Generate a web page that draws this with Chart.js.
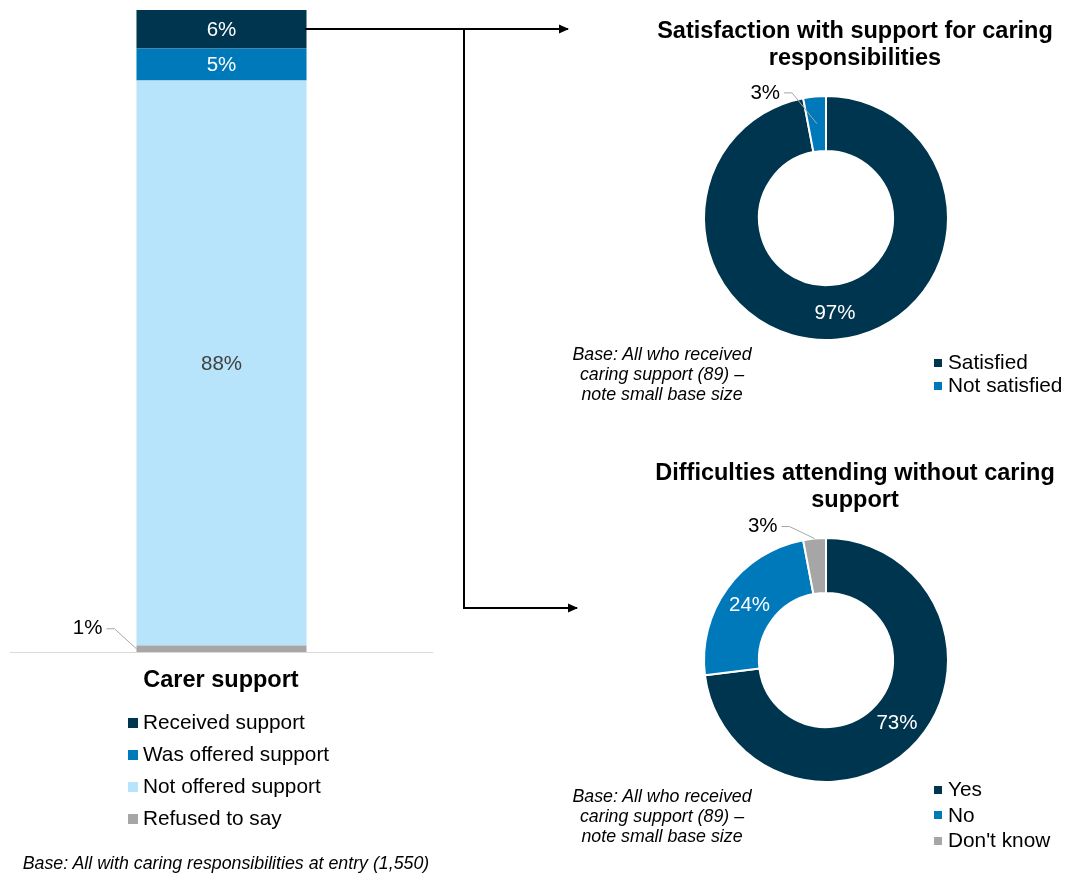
<!DOCTYPE html>
<html>
<head>
<meta charset="utf-8">
<script src="https://cdn.jsdelivr.net/npm/chart.js@4"></script>
<style>
body{margin:0;background:#fff;font-family:"Liberation Sans",Arial,sans-serif;color:#000;}
#wrap{position:relative;width:1065px;height:878px;overflow:hidden;}
canvas{position:absolute;}
.title{position:absolute;font-weight:bold;font-size:23.5px;line-height:27px;text-align:center;}
.note{position:absolute;font-style:italic;font-size:17.8px;line-height:20px;text-align:center;}
.legend{position:absolute;font-size:20.8px;}
.legend div{position:relative;white-space:nowrap;}
.legend span{position:absolute;display:block;}
svg{position:absolute;left:0;top:0;}
</style>
</head>
<body>
<div id="wrap">
<canvas id="carerChart" style="left:0;top:0;" width="445" height="662"></canvas>
<canvas id="satChart" style="left:680px;top:72px;" width="292" height="292"></canvas>
<canvas id="diffChart" style="left:680px;top:514px;" width="292" height="292"></canvas>

<svg width="1065" height="878">
<defs>
<marker id="arrow" markerWidth="10" markerHeight="10" refX="9" refY="5" orient="auto" markerUnits="userSpaceOnUse">
<path d="M0,0.5 L10,5 L0,9.5 z" fill="#000"/>
</marker>
</defs>
<path d="M305,29 H568" stroke="#000" stroke-width="2" fill="none" marker-end="url(#arrow)"/>
<path d="M464,29 V608 H577" stroke="#000" stroke-width="2" fill="none" marker-end="url(#arrow)"/>
</svg>

<div class="title" style="left:621px;top:17px;width:468px;">Satisfaction with support for caring<br>responsibilities</div>
<div class="title" style="left:621px;top:459px;width:468px;">Difficulties attending without caring<br>support</div>
<div class="title" style="left:71px;top:666px;width:300px;">Carer support</div>

<div class="note" style="left:542px;top:344px;width:240px;">Base: All who received<br>caring support (89) –<br>note small base size</div>
<div class="note" style="left:542px;top:786px;width:240px;">Base: All who received<br>caring support (89) –<br>note small base size</div>
<div class="note" style="left:0;top:853px;width:452px;">Base: All with caring responsibilities at entry (1,550)</div>

<div class="legend" id="carerLegend" style="left:128px;top:706px;"></div>
<div class="legend" id="satLegend" style="left:934px;top:350px;"></div>
<div class="legend" id="diffLegend" style="left:934px;top:776px;"></div>
</div>

<script>
// carer support (left stacked bar)
const carerCategories = ["Carer support"];
const carerLabels = ["Received support", "Was offered support", "Not offered support", "Refused to say"];
const carerValues = [6, 5, 88, 1];
const carerColors = ["#00354f", "#0079ba", "#b7e3fb", "#a6a6a6"];
const carerTextColors = ["#ffffff", "#ffffff", "#404040", "#404040"];

// satisfaction donut
const satLabels = ["Satisfied", "Not satisfied"];
const satValues = [97, 3];
const satColors = ["#00354f", "#0079ba"];

// difficulties donut
const diffLabels = ["Yes", "No", "Don't know"];
const diffValues = [73, 24, 3];
const diffColors = ["#00354f", "#0079ba", "#a6a6a6"];

const FONT = "'Liberation Sans', Arial, sans-serif";
const LABEL_FONT = "20.5px " + FONT;

function pct(v){ return v + "%"; }

function buildLegend(id, labels, colors, rowH, box, gap){
  const el = document.getElementById(id);
  labels.forEach((l, i) => {
    const row = document.createElement("div");
    row.style.height = rowH + "px";
    row.style.lineHeight = rowH + "px";
    row.style.paddingLeft = (box + gap) + "px";
    const sq = document.createElement("span");
    sq.style.left = "0px";
    sq.style.top = ((rowH - box) / 2 + 1) + "px";
    sq.style.width = box + "px";
    sq.style.height = box + "px";
    sq.style.background = colors[i];
    row.appendChild(sq);
    row.appendChild(document.createTextNode(l));
    el.appendChild(row);
  });
}

buildLegend("carerLegend", carerLabels, carerColors, 32, 10, 5);
buildLegend("satLegend", satLabels, satColors, 23, 8, 6);
buildLegend("diffLegend", diffLabels, diffColors, 25.5, 8, 6);

// draws a leader line and a value outside the mark
function leader(ctx, ax, ay, ex, ey, text){
  ctx.save();
  ctx.strokeStyle = "#a6a6a6";
  ctx.lineWidth = 1;
  ctx.beginPath();
  ctx.moveTo(ax, ay);
  ctx.lineTo(ex, ey);
  ctx.lineTo(ex - 8, ey);
  ctx.stroke();
  ctx.fillStyle = "#000";
  ctx.font = LABEL_FONT;
  ctx.textAlign = "right";
  ctx.textBaseline = "middle";
  ctx.fillText(text, ex - 12, ey);
  ctx.restore();
}

// value labels on the stacked bar
const barLabels = {
  id: "barLabels",
  afterDatasetsDraw(chart){
    const ctx = chart.ctx;
    const a = chart.chartArea;
    // baseline
    ctx.save();
    ctx.strokeStyle = "#d9d9d9";
    ctx.lineWidth = 1;
    ctx.beginPath();
    ctx.moveTo(a.left, Math.round(a.bottom) + 0.5);
    ctx.lineTo(a.right, Math.round(a.bottom) + 0.5);
    ctx.stroke();
    ctx.restore();

    chart.data.datasets.forEach((ds, di) => {
      const el = chart.getDatasetMeta(di).data[0];
      const v = ds.data[0];
      const h = Math.abs(el.base - el.y);
      const cy = (el.y + el.base) / 2;
      if (h < 20) {
        const ax = el.x - el.width / 2;
        leader(ctx, ax, cy, ax - 22, cy - 20, pct(v));
        return;
      }
      ctx.save();
      ctx.fillStyle = ds.textColor;
      ctx.font = LABEL_FONT;
      ctx.textAlign = "center";
      ctx.textBaseline = "middle";
      ctx.fillText(pct(v), el.x, cy + 1);
      ctx.restore();
    });
  }
};

// value labels on the doughnuts
const arcLabels = {
  id: "arcLabels",
  afterDatasetsDraw(chart, args, opts){
    const ctx = chart.ctx;
    const ds = chart.data.datasets[0];
    chart.getDatasetMeta(0).data.forEach((arc, i) => {
      const v = ds.data[i];
      if (i === opts.outside) {
        const mid = (arc.startAngle + arc.endAngle) / 2;
        const r = arc.innerRadius + (arc.outerRadius - arc.innerRadius) * opts.anchor;
        const ax = arc.x + Math.cos(mid) * r;
        const ay = arc.y + Math.sin(mid) * r;
        leader(ctx, ax, ay, ax + opts.dx, ay + opts.dy, pct(v));
        return;
      }
      const p = arc.tooltipPosition();
      ctx.save();
      ctx.fillStyle = "#fff";
      ctx.font = LABEL_FONT;
      ctx.textAlign = "center";
      ctx.textBaseline = "middle";
      ctx.fillText(pct(v), p.x, p.y + 1);
      ctx.restore();
    });
  }
};

new Chart(document.getElementById("carerChart"), {
  type: "bar",
  data: {
    labels: carerCategories,
    // first dataset sits at the bottom of the stack
    datasets: carerLabels.map((l, i) => ({
      label: l,
      data: [carerValues[i]],
      backgroundColor: carerColors[i],
      textColor: carerTextColors[i],
      borderWidth: 0,
      categoryPercentage: 1,
      barPercentage: 0.402
    })).reverse()
  },
  options: {
    responsive: false,
    animation: false,
    layout: { padding: { left: 10, right: 12, top: 10, bottom: 10 } },
    plugins: { legend: { display: false }, tooltip: { enabled: false } },
    scales: {
      x: { stacked: true, display: false },
      y: { stacked: true, display: false, min: 0, max: 100 }
    }
  },
  plugins: [barLabels]
});

function donut(id, labels, values, colors, outsideOpts){
  return new Chart(document.getElementById(id), {
    type: "doughnut",
    data: {
      labels: labels,
      datasets: [{
        data: values,
        backgroundColor: colors,
        borderColor: "#fff",
        borderWidth: 2
      }]
    },
    options: {
      responsive: false,
      animation: false,
      cutout: "55%",
      layout: { padding: 23 },
      plugins: {
        legend: { display: false },
        tooltip: { enabled: false },
        arcLabels: outsideOpts
      }
    },
    plugins: [arcLabels]
  });
}

donut("satChart", satLabels, satValues, satColors, { outside: 1, anchor: 0.5, dx: -25, dy: -31 });
donut("diffChart", diffLabels, diffValues, diffColors, { outside: 2, anchor: 1.0, dx: -25, dy: -12 });
</script>
</body>
</html>
